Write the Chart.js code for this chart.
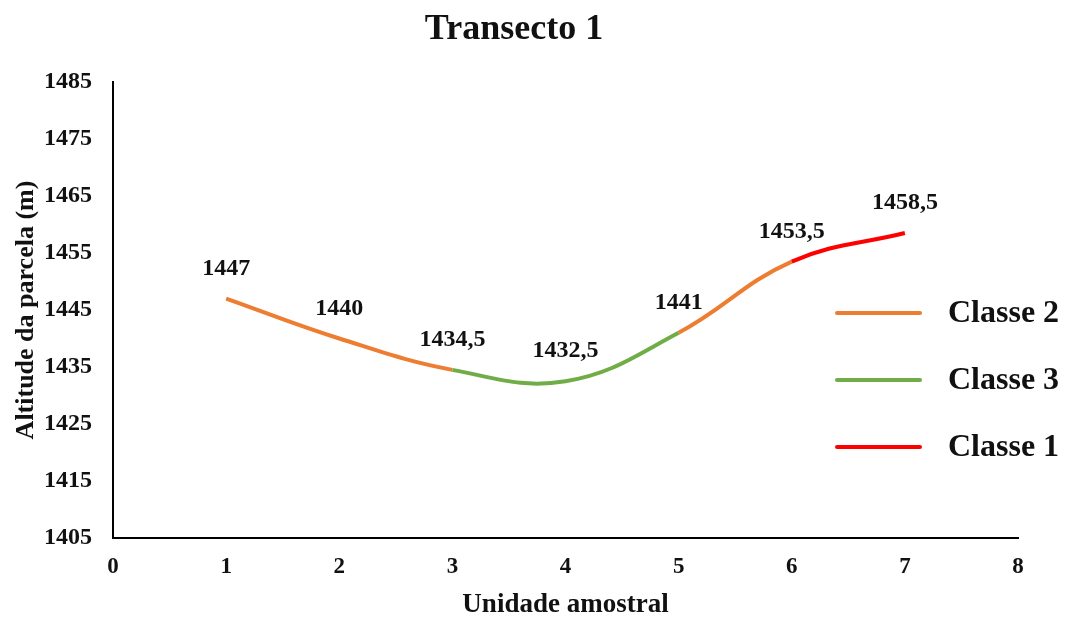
<!DOCTYPE html>
<html>
<head>
<meta charset="utf-8">
<script src="https://cdn.jsdelivr.net/npm/chart.js@4/dist/chart.umd.min.js"></script>
<style>
  html, body { margin: 0; padding: 0; background: #fff; }
  #wrap { width: 1071px; height: 621px; }
</style>
</head>
<body>
<div id="wrap"><canvas id="chart" width="1071" height="621"></canvas></div>
<script>
// Data
const units = [1, 2, 3, 4, 5, 6, 7];
const altitudes = [1447, 1440, 1434.5, 1432.5, 1441, 1453.5, 1458.5];
// class of each segment between consecutive points
const segmentClasses = ['Classe 2', 'Classe 2', 'Classe 3', 'Classe 3', 'Classe 2', 'Classe 1'];
const legendOrder = ['Classe 2', 'Classe 3', 'Classe 1'];
const classColors = { 'Classe 1': '#FF0000', 'Classe 2': '#ED7D31', 'Classe 3': '#70AD47' };

const FONT = '"Liberation Serif", "Times New Roman", serif';

const points = units.map((u, i) => ({ x: u, y: altitudes[i] }));

// value labels, title and legend drawn on the canvas
const extras = {
  id: 'extras',
  afterDatasetsDraw(chart) {
    const ctx = chart.ctx;
    const meta = chart.getDatasetMeta(0);
    ctx.save();
    ctx.fillStyle = '#111';
    ctx.font = 'bold 24px ' + FONT;
    ctx.textAlign = 'center';
    ctx.textBaseline = 'middle';
    meta.data.forEach((pt, i) => {
      ctx.fillText(String(altitudes[i]).replace('.', ','), pt.x, pt.y - 30);
    });

    // title
    ctx.font = 'bold 36px ' + FONT;
    ctx.fillText('Transecto 1', 514, 30);

    // legend
    ctx.font = 'bold 32px ' + FONT;
    ctx.textAlign = 'left';
    legendOrder.forEach((name, i) => {
      const y = 313 + i * 67;
      ctx.strokeStyle = classColors[name];
      ctx.lineWidth = 4;
      ctx.lineCap = 'round';
      ctx.beginPath();
      ctx.moveTo(837, y);
      ctx.lineTo(920, y);
      ctx.stroke();
      ctx.fillStyle = '#111';
      ctx.fillText(name, 948, y + 1);
    });
    ctx.restore();
  }
};

new Chart(document.getElementById('chart'), {
  type: 'line',
  data: {
    datasets: [{
      data: points,
      borderWidth: 4,
      borderColor: classColors['Classe 2'],
      tension: 0.4,
      pointRadius: 0,
      fill: false,
      segment: {
        borderColor: c => classColors[segmentClasses[c.p0DataIndex]]
      }
    }]
  },
  options: {
    responsive: false,
    animation: false,
    layout: { padding: { left: 0, right: 53, top: 82, bottom: 0 } },
    plugins: {
      legend: { display: false },
      title: { display: false },
      tooltip: { enabled: false }
    },
    scales: {
      x: {
        type: 'linear',
        min: 0,
        max: 8,
        grid: { display: false, drawTicks: false },
        border: { display: true, color: '#000', width: 2 },
        ticks: {
          stepSize: 1,
          padding: 15,
          color: '#111',
          font: { family: FONT, size: 23, weight: 'bold' }
        },
        title: {
          display: true,
          text: 'Unidade amostral',
          color: '#111',
          padding: { top: 0, bottom: 0 },
          font: { family: FONT, size: 27, weight: 'bold' }
        },
        afterFit(scale) { scale.height = 83; }
      },
      y: {
        min: 1405,
        max: 1485,
        grid: { display: false, drawTicks: false },
        border: { display: true, color: '#000', width: 2 },
        ticks: {
          stepSize: 10,
          padding: 21,
          color: '#111',
          font: { family: FONT, size: 24, weight: 'bold' },
          callback: v => String(v)
        },
        title: {
          display: true,
          text: 'Altitude da parcela (m)',
          color: '#111',
          padding: { top: 11, bottom: 0 },
          font: { family: FONT, size: 26, weight: 'bold' }
        },
        afterFit(scale) { scale.width = 113; }
      }
    }
  },
  plugins: [extras]
});
</script>
</body>
</html>
